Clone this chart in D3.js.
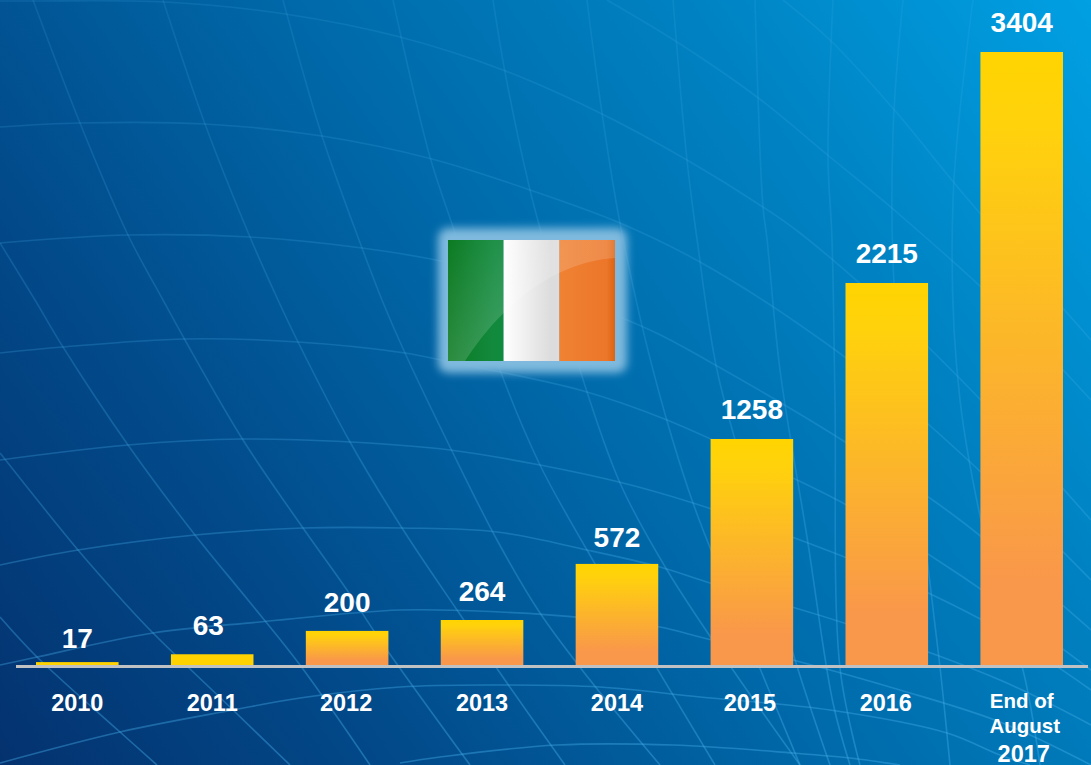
<!DOCTYPE html>
<html><head><meta charset="utf-8">
<script src="https://cdn.jsdelivr.net/npm/d3@7"></script>
<style>html,body{margin:0;padding:0;background:#0060a4}svg{display:block}text{font-family:"Liberation Sans",Arial,sans-serif;font-weight:bold;fill:#fff}</style>
</head><body><svg id="c" width="1091" height="765"></svg>
<script>
const categories = ["2010","2011","2012","2013","2014","2015","2016","End of August 2017"];
const values = [17,63,200,264,572,1258,2215,3404];
const flagColors = ["#0f8236","#ffffff","#ee7a2c"];

// faint globe-grid lines of the backdrop
const gridCurves = [
 [[0,1],[33,1],[165,2],[285,14],[400,37],[503,70],[600,113],[687,160],[763,207],[800,233],[900,320],[1000,420],[1091,520]],
 [[607,0],[677,42],[757,97],[830,157],[900,215],[1000,305],[1091,400]],
 [[783,0],[830,40],[897,113],[960,190],[1091,340]],
 [[0,127],[80,123],[205,124],[322,136],[432,159],[530,190],[620,223],[700,262],[800,325],[900,400],[1000,490],[1091,580]],
 [[0,243],[128,235],[250,237],[362,248],[450,263],[540,288],[650,330],[710,362],[850,445],[960,520],[1091,630]],
 [[0,353],[63,347],[185,339],[298,342],[405,353],[450,362],[580,390],[667,420],[797,480],[850,507],[960,575],[1091,670]],
 [[0,460],[128,445],[243,439],[350,442],[450,450],[540,465],[623,483],[693,503],[800,540],[900,580],[1000,630],[1091,690]],
 [[0,565],[78,550],[195,535],[303,528],[402,528],[497,532],[587,550],[660,567],[710,583],[850,625],[1000,680],[1091,725]],
 [[0,665],[37,657],[153,633],[260,622],[400,610],[500,612],[587,618],[660,627],[700,637],[793,660],[900,690],[1000,722],[1091,765]],
 [[0,763],[120,732],[233,710],[300,698],[400,687],[493,685],[600,687],[700,697],[830,710],[947,733],[1000,755],[1030,765]],
 [[400,763],[440,757],[557,745],[673,745],[793,753],[850,758],[900,765]],
 [[33,0],[80,123],[128,235],[163,300],[185,340],[243,440],[303,528],[347,590],[380,640],[470,765]],
 [[163,0],[205,124],[250,237],[278,300],[298,342],[350,442],[402,528],[457,610],[507,683],[565,765]],
 [[283,0],[322,136],[362,248],[382,300],[405,353],[450,447],[497,540],[540,613],[590,680],[660,765]],
 [[393,0],[430,157],[453,227],[500,370],[540,465],[587,550],[640,640],[715,765]],
 [[493,0],[505,72],[530,190],[543,239],[580,370],[620,483],[667,570],[733,670],[800,765]],
 [[587,0],[602,113],[620,223],[653,370],[693,503],[747,637],[800,765]],
 [[673,0],[687,160],[697,239],[717,370],[753,503],[793,653],[830,765]],
 [[755,0],[763,207],[767,239],[780,370],[807,537],[833,703],[850,765]],
 [[833,0],[828,157],[832,239],[835,400],[840,668],[860,765]],
 [[903,0],[893,133],[895,300],[920,500],[940,667],[950,765]],
 [[973,0],[953,200],[960,400],[1000,600],[1023,670],[1040,765]],
 [[0,243],[35,300],[63,347],[128,445],[195,535],[248,600],[300,665],[370,765]],
 [[0,453],[78,550],[122,600],[153,633],[233,710],[290,765]],
 [[0,617],[37,657],[120,732],[157,765]]
];

const W = 1091, H = 765;
const svg = d3.select("#c");
const defs = svg.append("defs");

const bg = defs.append("linearGradient").attr("id","bg").attr("gradientUnits","userSpaceOnUse")
  .attr("x1",0).attr("y1",765).attr("x2",1091).attr("y2",0);
[[0,"#04326f"],[.25,"#024a8a"],[.5,"#0068a8"],[.75,"#0082c2"],[1,"#00a0e3"]].forEach(([o,c])=>
  bg.append("stop").attr("offset",o).attr("stop-color",c));

const barGrad = defs.append("linearGradient").attr("id","barGrad").attr("x1",0).attr("y1",0).attr("x2",0).attr("y2",1);
[[0,"#ffd400"],[.12,"#ffd20c"],[.86,"#f9984a"],[1,"#f9974a"]].forEach(([o,c])=>
  barGrad.append("stop").attr("offset",o).attr("stop-color",c));

const lineGrad = defs.append("linearGradient").attr("id","lineGrad").attr("gradientUnits","userSpaceOnUse")
  .attr("x1",0).attr("y1",0).attr("x2",0).attr("y2",765);
[[0,.16],[.45,.24],[1,.42]].forEach(([o,a])=>
  lineGrad.append("stop").attr("offset",o).attr("stop-color","#43ace8").attr("stop-opacity",a));

const blur = defs.append("filter").attr("id","halo").attr("x","-25%").attr("y","-25%").attr("width","150%").attr("height","150%");
blur.append("feGaussianBlur").attr("stdDeviation",4.5);

svg.append("rect").attr("width",W).attr("height",H).attr("fill","url(#bg)");

const curve = d3.line().curve(d3.curveCatmullRom.alpha(.5));
svg.append("g").attr("fill","none").attr("stroke","url(#lineGrad)").attr("stroke-width",1.6)
  .selectAll("path").data(gridCurves).join("path").attr("d",curve);

// The bars in the picture are not strictly proportional to their labels, so the scale is piecewise.
const x = d3.scaleBand().domain(categories).range([36,1063]).paddingInner(.388).paddingOuter(0);
const y = d3.scaleLinear().domain([0,264,1258,2215,3404]).range([665,620,439,283,52]);

// flag
const fx = 448, fy = 240, fw = 167, fh = 121;
svg.append("rect").attr("x",fx-10).attr("y",fy-12).attr("width",fw+22).attr("height",fh+24).attr("rx",10)
  .attr("fill","#7fbade").attr("filter","url(#halo)");
const fxs = d3.scaleBand().domain(d3.range(3)).range([fx,fx+fw]);
const stripeEnds = [["#0c7a22","#128a3e"],["#ffffff","#dcdcdc"],["#f08234","#e56f1f"]];
stripeEnds.forEach((e,i)=>{
  const g = defs.append("linearGradient").attr("id","st"+i);
  g.append("stop").attr("offset",0).attr("stop-color",e[0]);
  g.append("stop").attr("offset",.85).attr("stop-color",i==2?"#ec7629":e[1]);
  g.append("stop").attr("offset",1).attr("stop-color",i==2?"#dc6412":e[1]);
});
svg.append("g").selectAll("rect").data(flagColors).join("rect")
  .attr("x",(d,i)=>fxs(i)).attr("y",fy).attr("width",fxs.bandwidth()).attr("height",fh)
  .attr("fill",(d,i)=>`url(#st${i})`);
const gloss = defs.append("linearGradient").attr("id","gloss").attr("gradientUnits","userSpaceOnUse")
  .attr("x1",fx).attr("y1",fy).attr("x2",fx+70).attr("y2",fy+60);
gloss.append("stop").attr("offset",0).attr("stop-color","#fff").attr("stop-opacity",0);
gloss.append("stop").attr("offset",1).attr("stop-color","#fff").attr("stop-opacity",.15);
svg.append("path")
  .attr("d",`M${fx},${fy}H${fx+fw}V${fy+18}C${fx+130},${fy+20} ${fx+70},${fy+40} ${fx+17},${fy+fh}H${fx}Z`)
  .attr("fill","url(#gloss)");

// bars
svg.append("g").selectAll("rect").data(values).join("rect")
  .attr("x",(d,i)=>x(categories[i])).attr("y",d=>y(d))
  .attr("width",x.bandwidth()).attr("height",d=>y(0)-y(d))
  .attr("fill",d=>y(0)-y(d)<15?"#ffd200":"url(#barGrad)");

// baseline
svg.append("rect").attr("x",16).attr("y",y(0)).attr("width",1072).attr("height",3).attr("fill","#bfc1c3");

// value labels (small hand offsets as in the picture)
const valueDx = [0,-4,0,0,0,0,0,0];
const valueDy = [5,0,0,0,2,-1,-1,-1];
svg.append("g").selectAll("text").data(values).join("text")
  .attr("text-anchor","middle").attr("font-size",28)
  .attr("x",(d,i)=>x(categories[i])+x.bandwidth()/2+valueDx[i])
  .attr("y",(d,i)=>y(d)-19+valueDy[i]).text(d=>d);

// category axis
const axis = d3.axisBottom(x).tickSize(0).tickPadding(0);
const ax = svg.append("g").attr("transform",`translate(0,${y(0)})`).call(axis);
ax.select(".domain").remove();
const catDx = [0,0,-1,0,0,-2,-1,0];
ax.selectAll(".tick text").each(function(d,i){
  const t = d3.select(this).attr("fill",null).attr("dy",null).attr("y",46).attr("x",catDx[i]).attr("font-size",23.5).attr("text-anchor","middle").style("font-family",'"Liberation Sans",Arial,sans-serif');
  if (i === categories.length-1) {
    t.text(null);
    [["End of",20.5,43,0],["August",20.5,68,3],["2017",23.5,96.5,2]].forEach(([s,fs,yy,dx])=>{
      t.append("tspan").attr("x",dx).attr("y",yy).attr("font-size",fs).text(s);
    });
  }
});
</script></body></html>
